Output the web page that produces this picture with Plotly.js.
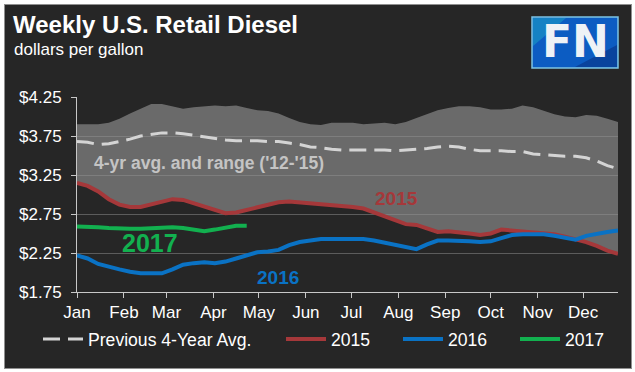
<!DOCTYPE html>
<html>
<head>
<meta charset="utf-8">
<script src="https://cdn.plot.ly/plotly-3.0.1.min.js"></script>
<style>
  html, body { margin: 0; padding: 0; background: #ffffff; }
  #frame { position: absolute; left: 4px; top: 4px; width: 628px; height: 365px;
           box-sizing: border-box; background: #262626; border: 1px solid #8f8f8f; }
  #chart { position: absolute; left: 0; top: 0; width: 635px; height: 372px; }
</style>
</head>
<body>
<div id="frame"></div>
<div id="chart"></div>
<script>
// ---- Data, weekly values, dollars per gallon ----
const monthLabels = ['Jan','Feb','Mar','Apr','May','Jun','Jul','Aug','Sep','Oct','Nov','Dec'];
const monthStartDay = [0, 31, 59, 90, 120, 151, 181, 212, 243, 273, 304, 334];

const avg4yr = [3.68,3.67,3.64,3.65,3.68,3.71,3.75,3.77,3.79,3.79,3.78,3.76,3.74,3.72,3.70,3.69,
                3.69,3.69,3.68,3.68,3.66,3.64,3.61,3.60,3.58,3.57,3.57,3.57,3.57,3.57,3.56,3.57,
                3.58,3.59,3.61,3.62,3.61,3.58,3.56,3.56,3.56,3.55,3.55,3.52,3.51,3.50,3.49,3.49,
                3.47,3.43,3.37,3.33];

const rangeHigh = [3.90,3.90,3.90,3.92,3.97,4.04,4.10,4.16,4.16,4.13,4.10,4.12,4.13,4.14,4.13,4.14,
                   4.11,4.08,4.07,4.04,3.98,3.93,3.90,3.89,3.92,3.92,3.92,3.90,3.91,3.92,3.90,3.93,
                   3.98,4.03,4.08,4.11,4.13,4.13,4.12,4.09,4.09,4.10,4.14,4.12,4.07,4.03,4.00,3.99,
                   4.02,4.01,3.97,3.93];

const y2015 = [3.15,3.11,3.04,2.94,2.87,2.84,2.84,2.87,2.90,2.94,2.93,2.89,2.84,2.80,2.76,2.77,
               2.80,2.84,2.87,2.90,2.91,2.90,2.88,2.87,2.86,2.85,2.84,2.82,2.77,2.72,2.66,2.62,
               2.61,2.57,2.52,2.53,2.52,2.50,2.48,2.50,2.55,2.54,2.52,2.51,2.51,2.49,2.46,2.43,
               2.39,2.34,2.28,2.24];

// 2015 was the lowest of 2012-2015 all year, so it is the bottom of the range band
const rangeLow = y2015;

const y2016 = [2.22,2.18,2.11,2.07,2.04,2.01,1.99,1.99,1.99,2.04,2.10,2.12,2.13,2.12,2.14,2.18,
               2.22,2.26,2.27,2.29,2.35,2.39,2.41,2.43,2.43,2.43,2.43,2.43,2.41,2.38,2.35,2.32,
               2.30,2.36,2.41,2.41,2.41,2.40,2.39,2.40,2.44,2.48,2.49,2.49,2.49,2.47,2.44,2.42,
               2.47,2.50,2.52,2.54];

const y2017 = [2.59,2.59,2.58,2.57,2.56,2.56,2.56,2.57,2.58,2.58,2.57,2.55,2.53,2.55,2.58,2.60,2.60];

const seriesNames = ['Previous 4-Year Avg.', '2015', '2016', '2017'];

// ---- Build ----
const FONT = '"Liberation Sans", Arial, sans-serif';
const wk = arr => arr.map((_, i) => i);
const C15 = '#a5383a', C16 = '#0a72c4', C17 = '#12b04f', CAVG = '#d4d4d4';
const PW = 541, PH = 195, PL = 77, PB = 292;   // plot area in pixels
const px = x => (x - PL) / PW, py = y => (PB - y) / PH;

const traces = [
  { x: wk(rangeHigh), y: rangeHigh, type: 'scatter', mode: 'lines',
    line: { width: 0, color: 'rgba(0,0,0,0)' }, showlegend: false, hoverinfo: 'skip' },
  { x: wk(rangeLow), y: rangeLow, type: 'scatter', mode: 'lines', fill: 'tonexty',
    fillcolor: 'rgba(146,146,146,0.64)', line: { width: 0, color: 'rgba(0,0,0,0)' },
    showlegend: false, hoverinfo: 'skip' },
  { x: wk(avg4yr), y: avg4yr, name: seriesNames[0], type: 'scatter', mode: 'lines',
    line: { color: CAVG, width: 3, dash: '17px,8px' }, legend: 'legend' },
  { x: wk(y2015), y: y2015, name: seriesNames[1], type: 'scatter', mode: 'lines',
    line: { color: C15, width: 4 }, legend: 'legend2' },
  { x: wk(y2016), y: y2016, name: seriesNames[2], type: 'scatter', mode: 'lines',
    line: { color: C16, width: 4 }, legend: 'legend2' },
  { x: wk(y2017), y: y2017, name: seriesNames[3], type: 'scatter', mode: 'lines',
    line: { color: C17, width: 4 }, legend: 'legend2' }
];

const layout = {
  width: 635, height: 372,
  margin: { l: 77, r: 17, t: 97, b: 80, pad: 0, autoexpand: false },
  paper_bgcolor: 'rgba(0,0,0,0)', plot_bgcolor: 'rgba(0,0,0,0)',
  font: { family: FONT, color: '#ffffff', size: 17 },
  title: {
    text: '<b>Weekly U.S. Retail Diesel</b>',
    font: { family: FONT, size: 24, color: '#ffffff' },
    xref: 'container', yref: 'container', x: 13/635, xanchor: 'left',
    y: 1 - 25/372, yanchor: 'middle'
  },
  xaxis: {
    range: [0, 51], tickmode: 'array',
    tickvals: monthStartDay.map(d => d / 7), ticktext: monthLabels,
    showgrid: false, zeroline: false,
    showline: true, linecolor: '#c8c8c8', linewidth: 1,
    ticks: 'outside', ticklen: 5, tickcolor: '#c8c8c8', tickwidth: 1,
    tickfont: { size: 17, color: '#ffffff' }
  },
  yaxis: {
    range: [1.75, 4.25], dtick: 0.5, tick0: 1.75, tickprefix: '$', tickformat: '.2f',
    showgrid: true, gridcolor: '#5c5c5c', gridwidth: 1, zeroline: false,
    showline: true, linecolor: '#c8c8c8', linewidth: 1,
    ticks: 'outside', ticklen: 5, tickcolor: '#c8c8c8', tickwidth: 1,
    ticklabelstandoff: 6,
    tickfont: { size: 17, color: '#ffffff' }
  },
  legend: {
    orientation: 'h', x: px(38), xanchor: 'left', y: py(339), yanchor: 'middle',
    font: { size: 17.6, color: '#ffffff' }, bgcolor: 'rgba(0,0,0,0)', itemwidth: 40
  },
  legend2: {
    orientation: 'h', x: px(281), xanchor: 'left', y: py(339), yanchor: 'middle',
    font: { size: 17.6, color: '#ffffff' }, bgcolor: 'rgba(0,0,0,0)', itemwidth: 40,
    entrywidth: 62, traceorder: 'normal'
  },
  annotations: [
    { x: px(12), y: py(49.5), xref: 'paper', yref: 'paper', xanchor: 'left', yanchor: 'middle',
      text: 'dollars per gallon', showarrow: false,
      font: { size: 17, color: '#ffffff' } },
    { x: 12.45, y: 3.40, xref: 'x', yref: 'y', text: "<b>4-yr avg. and range ('12-'15)</b>",
      showarrow: false, font: { size: 17.5, color: '#c4c4c4' } },
    { x: 30.1, y: 2.955, xref: 'x', yref: 'y', text: '<b>2015</b>',
      showarrow: false, font: { size: 19, color: C15 } },
    { x: 18.96, y: 1.93, xref: 'x', yref: 'y', text: '<b>2016</b>',
      showarrow: false, font: { size: 19, color: C16 } },
    { x: 6.9, y: 2.378, xref: 'x', yref: 'y', text: '<b>2017</b>',
      showarrow: false, font: { size: 25, color: C17 } },
    { x: px(575), y: py(42), xref: 'paper', yref: 'paper', xanchor: 'center', yanchor: 'middle',
      text: '<b>FN</b>', showarrow: false,
      font: { family: '"DejaVu Sans", sans-serif', size: 44, color: '#eef2f6' } }
  ],
  shapes: [
    { type: 'rect', xref: 'paper', yref: 'paper', layer: 'above',
      x0: px(532), x1: px(618), y0: py(68), y1: py(17),
      fillcolor: '#0c5cc2', line: { color: '#7cc4e4', width: 1.5 } },
    { type: 'path', xref: 'paper', yref: 'paper', layer: 'above',
      path: `M ${px(533)},${py(18)} L ${px(566)},${py(18)} L ${px(533)},${py(46)} Z`,
      fillcolor: 'rgba(40,200,200,0.35)', line: { width: 0 } },
    { type: 'path', xref: 'paper', yref: 'paper', layer: 'above',
      path: `M ${px(617)},${py(67)} L ${px(575)},${py(67)} L ${px(617)},${py(45)} Z`,
      fillcolor: 'rgba(5,20,90,0.35)', line: { width: 0 } }
  ]
};

Plotly.newPlot('chart', traces, layout, { staticPlot: true, displayModeBar: false });
</script>
</body>
</html>
